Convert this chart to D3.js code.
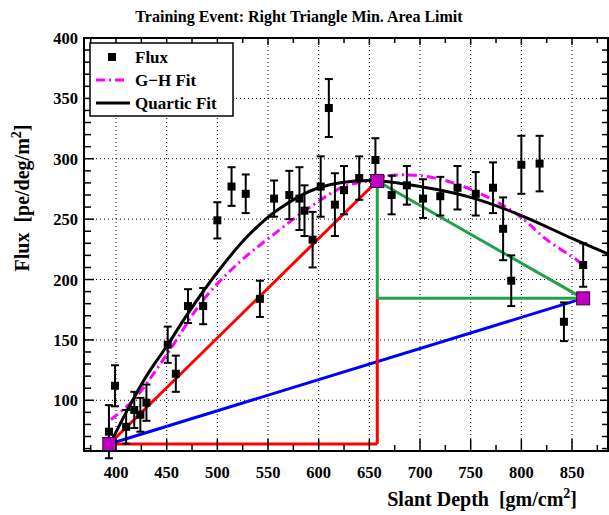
<!DOCTYPE html>
<html><head><meta charset="utf-8">
<script src="https://cdn.jsdelivr.net/npm/d3@7"></script>
<style>body{margin:0;background:#fff;} svg{display:block;} text{white-space:pre;}</style>
</head><body>
<svg id="chart" width="609" height="515"></svg>
<script>
// ---- data ----
const depth = [393, 399, 410, 418, 424, 430, 451, 459, 471, 486, 500, 514, 528, 542, 556, 571, 581, 586, 594, 602, 610, 616, 625, 640, 656, 672, 687, 703, 720, 737, 755, 772, 782, 790, 800, 818, 842, 861];
const flux  = [74, 112, 78, 92, 88, 98, 146, 122, 178, 178, 249, 277, 271, 184, 267, 270, 267, 257, 233, 277, 342, 262, 274, 284, 299, 270, 278, 267, 269, 276, 271, 276, 242, 199, 295, 296, 165, 212];
const fluxErr = [22, 17, 14, 15, 14, 15, 15, 15, 14, 15, 15, 16, 16, 15, 15, 20, 26, 21, 23, 25, 24, 26, 20, 18, 18, 16, 16, 16, 16, 18, 18, 21, 26, 21, 24, 23, 16, 18];

const quarticX = [393, 410, 430, 451, 471, 500, 530, 560, 600, 650, 700, 750, 800, 850, 886];
const quarticY = [62, 90, 120, 146, 172, 206, 236, 258, 276, 282, 277, 268, 253, 234, 221];

const ghX = [395, 417, 451, 486, 520, 555, 595, 625, 651, 670, 700, 733, 772, 799, 825, 855, 861];
const ghY = [84, 100, 139, 183, 213, 237, 262, 277, 282, 286, 286, 280, 266, 252, 233, 216, 212];

const triX = [393.4, 657.8, 861];
const triY = [63.8, 281.6, 184.4];

const xTicks = [400, 450, 500, 550, 600, 650, 700, 750, 800, 850];
const yTicks = [100, 150, 200, 250, 300, 350, 400];

const titleText = "Training Event: Right Triangle Min. Area Limit";
const legendLabels = ["Flux", "G\u2212H Fit", "Quartic Fit"];

// ---- layout ----
const L = 84, R = 608, T = 38, B = 451;
const svg = d3.select("#chart");
const x = d3.scaleLinear().domain([368.4, 885.5]).range([L, R]);
const y = d3.scaleLinear().domain([58, 400]).range([B, T]);
const font = "'Liberation Serif', 'Times New Roman', serif";

// grid
const grid = svg.append("g").attr("stroke", "#000").attr("stroke-width", 1).attr("stroke-dasharray", "1,3");
xTicks.forEach(v => grid.append("line").attr("x1", x(v)).attr("x2", x(v)).attr("y1", T).attr("y2", B));
yTicks.filter(v => v < 400).forEach(v => grid.append("line").attr("x1", L).attr("x2", R).attr("y1", y(v)).attr("y2", y(v)));

// triangle construction
const tl = svg.append("g").attr("fill", "none").attr("stroke-width", 3).attr("stroke-linecap", "butt");
const line2 = (a, b, c) => tl.append("line").attr("x1", x(a[0])).attr("y1", y(a[1])).attr("x2", x(b[0])).attr("y2", y(b[1])).attr("stroke", c);
const P0 = [triX[0], triY[0]], P1 = [triX[1], triY[1]], P2 = [triX[2], triY[2]];
line2(P0, P2, "#0000ff");
line2(P0, [triX[1], triY[0]], "#ff0000");
line2([triX[1], triY[0]], [triX[1], triY[2]], "#ff0000");
line2(P0, P1, "#ff0000");
line2([triX[1], triY[2]], P1, "#22a04b");
line2([triX[1], triY[2]], P2, "#22a04b");
line2(P1, P2, "#22a04b");

// curves
const curve = d3.line().x(d => x(d[0])).y(d => y(d[1])).curve(d3.curveCatmullRom.alpha(0.5));
svg.append("path").datum(ghX.map((v, i) => [v, ghY[i]])).attr("d", curve)
  .attr("fill", "none").attr("stroke", "#ff00ff").attr("stroke-width", 3).attr("stroke-dasharray", "9,4,2,4");
svg.append("path").datum(quarticX.map((v, i) => [v, quarticY[i]])).attr("d", curve)
  .attr("fill", "none").attr("stroke", "#000").attr("stroke-width", 3);

// data points
const pts = svg.append("g");
depth.forEach((d, i) => {
  const cx = x(d), y1 = y(flux[i] - fluxErr[i]), y2 = y(flux[i] + fluxErr[i]);
  pts.append("line").attr("x1", cx).attr("x2", cx).attr("y1", y1).attr("y2", y2).attr("stroke", "#000").attr("stroke-width", 2);
  pts.append("line").attr("x1", cx - 4).attr("x2", cx + 4).attr("y1", y1).attr("y2", y1).attr("stroke", "#000").attr("stroke-width", 2);
  pts.append("line").attr("x1", cx - 4).attr("x2", cx + 4).attr("y1", y2).attr("y2", y2).attr("stroke", "#000").attr("stroke-width", 2);
  pts.append("rect").attr("x", cx - 4).attr("y", y(flux[i]) - 4).attr("width", 8).attr("height", 8).attr("fill", "#000");
});

// triangle vertices
triX.forEach((v, i) => {
  svg.append("rect").attr("x", x(v) - 6.5).attr("y", y(triY[i]) - 6.5).attr("width", 13).attr("height", 13)
    .attr("fill", "#c000c0").attr("stroke", "#3a003a").attr("stroke-width", 1);
});

// ticks
const tk = svg.append("g").attr("stroke", "#000").attr("stroke-width", 1.5);
d3.range(375, 886, 25).forEach(v => {
  const major = v % 50 === 0;
  tk.append("line").attr("x1", x(v)).attr("x2", x(v)).attr("y1", B).attr("y2", B - (major ? 12 : 6));
  tk.append("line").attr("x1", x(v)).attr("x2", x(v)).attr("y1", T).attr("y2", T + (major ? 7 : 5));
});
d3.range(60, 401, 10).forEach(v => {
  const major = v % 50 === 0;
  tk.append("line").attr("x1", L).attr("x2", L + (major ? 10 : 7)).attr("y1", y(v)).attr("y2", y(v));
  tk.append("line").attr("x1", R).attr("x2", R - (major ? 8 : 6)).attr("y1", y(v)).attr("y2", y(v));
});

// frame
svg.append("rect").attr("x", L).attr("y", T).attr("width", R - L).attr("height", B - T)
  .attr("fill", "none").attr("stroke", "#000").attr("stroke-width", 2);

// tick labels
const tlab = svg.append("g").attr("font-family", font).attr("font-weight", "bold").attr("font-size", 16.5).attr("fill", "#000");
xTicks.forEach(v => tlab.append("text").attr("x", x(v)).attr("y", 478).attr("text-anchor", "middle").text(v));
yTicks.forEach(v => tlab.append("text").attr("x", 78).attr("y", y(v) + 6).attr("text-anchor", "end").text(v));

// title
svg.append("text").attr("x", 299).attr("y", 22).attr("text-anchor", "middle")
  .attr("font-family", font).attr("font-weight", "bold").attr("font-size", 16).text(titleText);

// axis titles
const xt = svg.append("text").attr("x", 577).attr("y", 506).attr("text-anchor", "end")
  .attr("font-family", font).attr("font-weight", "bold").attr("font-size", 20);
xt.append("tspan").text("Slant Depth  [gm/cm");
xt.append("tspan").attr("dy", -8).attr("font-size", 14).text("2");
xt.append("tspan").attr("dy", 8).text("]");

const yt = svg.append("text").attr("transform", "translate(29,198) rotate(-90)").attr("text-anchor", "middle")
  .attr("font-family", font).attr("font-weight", "bold").attr("font-size", 20);
yt.append("tspan").text("Flux  [pe/deg/m");
yt.append("tspan").attr("dy", -8).attr("font-size", 14).text("2");
yt.append("tspan").attr("dy", 8).text("]");

// legend
const lg = svg.append("g");
lg.append("rect").attr("x", 90).attr("y", 43).attr("width", 143).attr("height", 73)
  .attr("fill", "#fff").attr("stroke", "#000").attr("stroke-width", 1.5);
const ly = [57, 80, 103];
lg.append("rect").attr("x", 108).attr("y", ly[0] - 4).attr("width", 8).attr("height", 8).attr("fill", "#000");
lg.append("line").attr("x1", 96).attr("x2", 128).attr("y1", ly[1]).attr("y2", ly[1])
  .attr("stroke", "#ff00ff").attr("stroke-width", 3).attr("stroke-dasharray", "9,4,2,4");
lg.append("line").attr("x1", 96).attr("x2", 130).attr("y1", ly[2]).attr("y2", ly[2])
  .attr("stroke", "#000").attr("stroke-width", 3);
legendLabels.forEach((t, i) => lg.append("text").attr("x", 135).attr("y", ly[i] + 6)
  .attr("font-family", font).attr("font-weight", "bold").attr("font-size", 17).text(t));
</script>
</body></html>
